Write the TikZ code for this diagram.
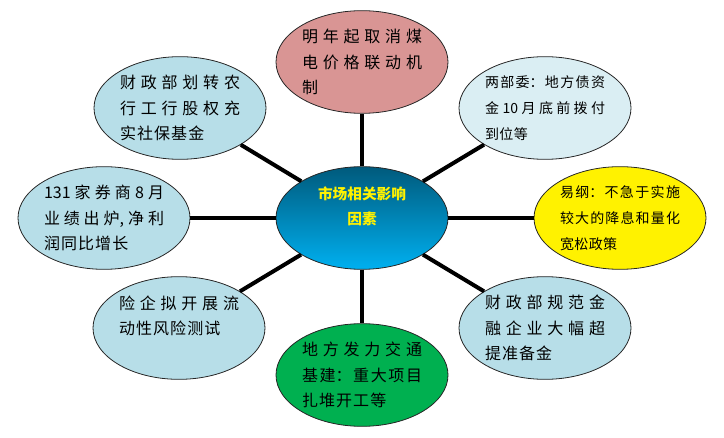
\documentclass[tikz,border=0pt]{standalone}
\usepackage{fontspec}
\setmainfont{Noto Sans CJK SC}
\usetikzlibrary{shapes.geometric}
\XeTeXlinebreaklocale "zh"
\tolerance=10000
\hbadness=10000
\definecolor{redfill}{HTML}{D99594}
\definecolor{palefill}{HTML}{DAEEF3}
\definecolor{aquafill}{HTML}{B7DEE8}
\definecolor{greenfill}{HTML}{00B050}
\definecolor{hubtop}{HTML}{005A7C}
\definecolor{hubbottom}{HTML}{00B0F0}
\tikzset{
  topic/.style={ellipse,draw=black!85,line width=0.6pt,minimum width=129pt,minimum height=77pt,
    inner sep=0pt,text width=90pt,align=justify,
    font={\fontsize{12pt}{19pt}\selectfont\XeTeXlinebreakskip=0.8pt plus 8pt\relax}},
  smalltopic/.style={topic,font={\fontsize{10.5pt}{19.5pt}\selectfont\XeTeXlinebreakskip=0.3pt plus 8pt\relax}},
  link/.style={line width=3pt}
}
\begin{document}
\begin{tikzpicture}[x=0.75pt,y=-0.75pt]
\path[use as bounding box] (0,0) rectangle (724,438);
\node[ellipse,draw=black!85,line width=0.6pt,top color=hubtop,bottom color=hubbottom,
  minimum width=129pt,minimum height=77pt,inner sep=0pt,align=center,text=yellow,
  font={\fontsize{11pt}{19pt}\selectfont\bfseries}] (hub) at (362,218) {市场相关影响\\因素\\\mbox{}};
\node[topic,fill=redfill] (coal) at (362,62) {明年起取消煤\linebreak 电价格联动机\linebreak 制};
\node[smalltopic,fill=palefill] (bond) at (545,108) {两部委：地方债资\linebreak 金 10 月底前拨付\linebreak 到位等};
\node[smalltopic,fill=yellow] (pboc) at (620,218) {易纲：不急于实施\linebreak 较大的降息和量化\linebreak 宽松政策};
\node[topic,fill=aquafill] (reserve) at (545,328) {财政部规范金\linebreak 融企业大幅超\linebreak 提准备金};
\node[topic,fill=greenfill] (infra) at (362,375) {地方发力交通\linebreak 基建：重大项目\linebreak 扎堆开工等};
\node[topic,fill=aquafill] (insure) at (179,328) {险企拟开展流\linebreak 动性风险测试\newline\mbox{}};
\node[topic,fill=aquafill] (broker) at (104,218) {131 家券商 8 月\linebreak 业绩出炉, 净利\linebreak 润同比增长};
\node[topic,fill=aquafill] (equity) at (180,108) {财政部划转农\linebreak 行工行股权充\linebreak 实社保基金};
\foreach \leaf in {coal,bond,pboc,reserve,infra,insure,broker,equity}
  \draw[link] (hub) -- (\leaf);
\end{tikzpicture}
\end{document}
